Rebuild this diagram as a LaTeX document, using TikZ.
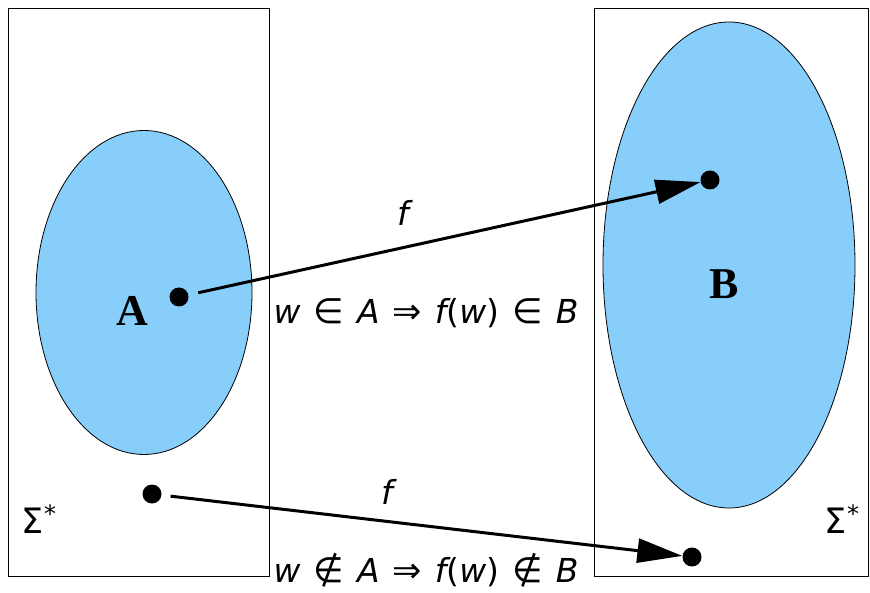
\documentclass[tikz,border=0pt]{standalone}
\usepackage{fontspec}
\newfontfamily\dv{DejaVu Sans}
\newfontfamily\tms{Liberation Serif}
\usetikzlibrary{arrows.meta}
\definecolor{skyfill}{RGB}{135,206,250}
\newcommand{\iv}[1]{{\itshape #1}}
\newcommand{\rl}[1]{\hspace{13pt}{\fontsize{35}{40}\selectfont #1}\hspace{13pt}}
\begin{document}
\begin{tikzpicture}[x=1pt,y=-1pt,
  frame/.style={draw, line width=0.8pt},
  blob/.style={draw, fill=skyfill, line width=0.8pt},
  pt/.style={circle, fill=black, inner sep=0pt, minimum size=19pt},
  maparrow/.style={line width=3pt, -{Triangle[length=45pt,width=24pt]}},
  mathlbl/.style={font=\dv\fontsize{33}{38}\selectfont, inner sep=0pt},
  setlbl/.style={font=\tms\bfseries\fontsize{44}{50}\selectfont, inner sep=0pt},
  sigmalbl/.style={font=\dv\fontsize{35}{40}\selectfont, inner sep=0pt}]
\useasboundingbox (0,0) rectangle (870,593);
\fill[white] (0,0) rectangle (870,593);
% frames
\draw[frame] (8,8) rectangle (269,576);
\draw[frame] (594,8) rectangle (868,576);
% sets
\draw[blob] (144,292.5) ellipse [x radius=108, y radius=162];
\draw[blob] (729,265) ellipse [x radius=126, y radius=243];
% labels
\node[setlbl] (labA) at (132,311) {A};
\node[setlbl] (labB) at (724,284) {B};
\node[sigmalbl] (sigL) at (39,519) {Σ\raisebox{11pt}{\fontsize{24}{26}\selectfont *}};
\node[sigmalbl] (sigR) at (842,519) {Σ\raisebox{11pt}{\fontsize{24}{26}\selectfont *}};
% points
\node[pt] (a) at (179,297) {};
\node[pt] (b) at (710,180) {};
\node[pt] (c) at (152,494) {};
\node[pt] (d) at (692,557) {};
% arrows
\draw[maparrow, shorten <=10pt] (a) -- (b);
\draw[maparrow, shorten <=9pt] (c) -- (d);
% arrow labels
\node[mathlbl] (f1) at (403,213) {\iv{f}};
\node[mathlbl] (f2) at (387,492) {\iv{f}};
\node[mathlbl] (r1) at (426,313) {\iv{w}\rl{∈}\iv{A}\rl{⇒}\iv{f}(\iv{w})\rl{∈}\iv{B}};
\node[mathlbl] (r2) at (426,570) {\iv{w}\rl{∉}\iv{A}\rl{⇒}\iv{f}(\iv{w})\rl{∉}\iv{B}};
\end{tikzpicture}
\end{document}
